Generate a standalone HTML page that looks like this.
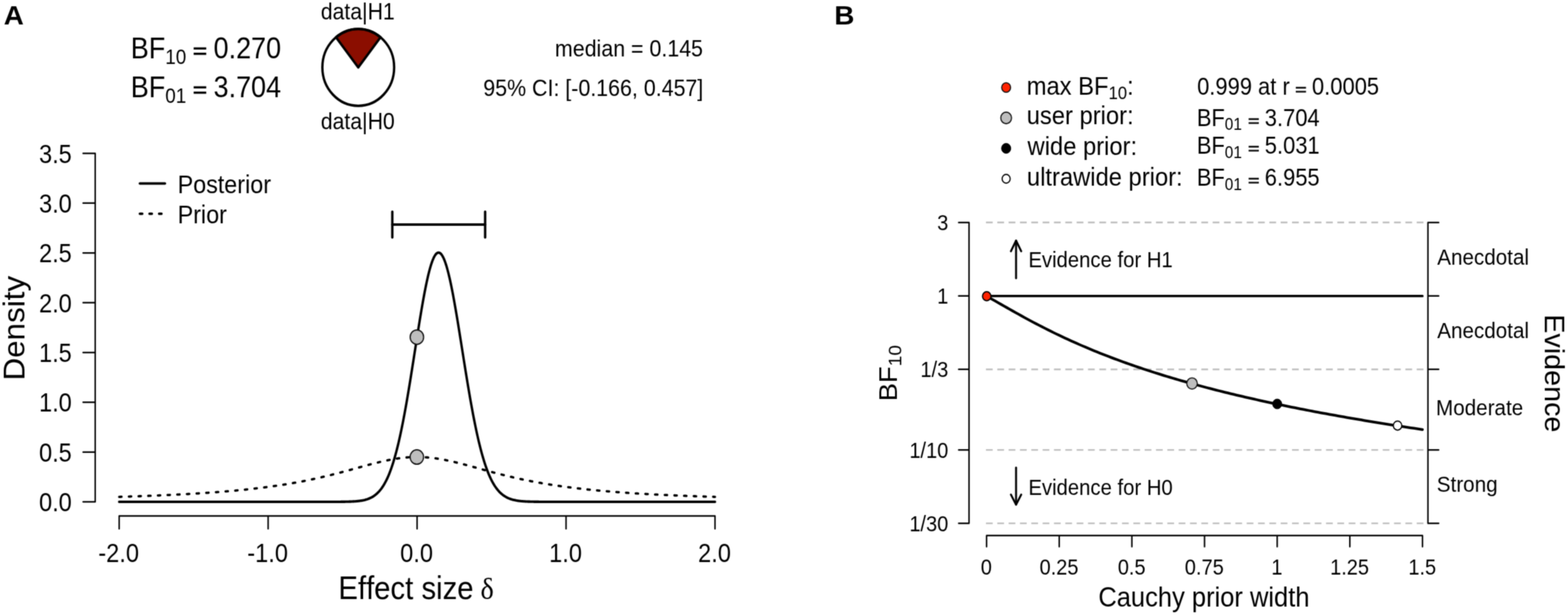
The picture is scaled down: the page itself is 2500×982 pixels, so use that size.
<!DOCTYPE html>
<html lang="en">
<head>
<meta charset="utf-8">
<title>Bayesian t-test: prior and posterior / Bayes factor robustness check</title>
<style>
html,body{margin:0;padding:0;background:#fff;}
body{width:2500px;height:982px;overflow:hidden;}
svg{display:block;}
text{font-kerning:none;font-family:"Liberation Sans",Arial,Helvetica,sans-serif;fill:#000;white-space:pre;}
</style>
</head>
<body>
<svg width="2500" height="982" viewBox="0 0 2500 982">
<defs>
<filter id="soft" filterUnits="userSpaceOnUse" x="0" y="0" width="2500" height="982" color-interpolation-filters="sRGB">
<feConvolveMatrix order="5" kernelMatrix="0.0001 0.0020 0.0055 0.0020 0.0001 0.0020 0.0422 0.1171 0.0422 0.0020 0.0055 0.1171 0.3248 0.1171 0.0055 0.0020 0.0422 0.1171 0.0422 0.0020 0.0001 0.0020 0.0055 0.0020 0.0001" edgeMode="duplicate" preserveAlpha="true"/>
</filter>
</defs>
<g filter="url(#soft)">
<rect x="0" y="0" width="2500" height="982" fill="#fff"/>
<g transform="scale(0.935,1)">
<g transform="translate(226.74,93.4) scale(0.9653,1)" font-size="47.66"><text x="-3.91" y="0">BF</text><text x="56.99" y="8.1" font-size="33.36">10</text><text x="0" y="0" transform="translate(105.73,0) scale(0.9,0.68)" stroke="#000" stroke-width="1.52">=</text><text x="142.42" y="0">0.270</text></g>
<g transform="translate(226.74,155.4) scale(0.9653,1)" font-size="47.66"><text x="-3.91" y="0">BF</text><text x="56.99" y="8.1" font-size="33.36">01</text><text x="0" y="0" transform="translate(105.73,0) scale(0.9,0.68)" stroke="#000" stroke-width="1.52">=</text><text x="142.42" y="0">3.704</text></g>
<circle cx="610.91" cy="107.45" r="61.2" fill="#fff" stroke="#000" stroke-width="4"/>
<path d="M610.91,107.45 L573.01,59.4 A61.2,61.2 0 0 1 648.81,59.4 Z" fill="#8B0E00" stroke="#000" stroke-width="4" stroke-linejoin="round"/>
<g transform="translate(548.56,31.1) scale(0.9804,1)" font-size="36.92"><text x="-1.55" y="0">data|H1</text></g>
<g transform="translate(548.56,205.6) scale(0.9804,1)" font-size="36.92"><text x="-1.55" y="0">data|H0</text></g>
<g transform="translate(1197.33,90.4) scale(0.9804,1)" font-size="37.22"><text x="-256.07" y="0">median = 0.145</text></g>
<g transform="translate(1196.79,152.8) scale(0.9804,1)" font-size="37.22"><text x="-380.12" y="0">95% CI: [-0.166, 0.457]</text></g>
<path d="M141.71,244.5 H162.35 V800 H141.71 M141.71,720.64 H162.35 M141.71,641.29 H162.35 M141.71,561.93 H162.35 M141.71,482.57 H162.35 M141.71,403.21 H162.35 M141.71,323.86 H162.35" fill="none" stroke="#000" stroke-width="2.5" stroke-linecap="round" stroke-linejoin="round"/>
<g transform="translate(122.46,815.2) scale(0.9653,1)" font-size="41.65"><text x="-57.9" y="0">0.0</text></g>
<g transform="translate(122.46,735.84) scale(0.9653,1)" font-size="41.65"><text x="-57.9" y="0">0.5</text></g>
<g transform="translate(122.46,656.49) scale(0.9653,1)" font-size="41.65"><text x="-57.9" y="0">1.0</text></g>
<g transform="translate(122.46,577.13) scale(0.9653,1)" font-size="41.65"><text x="-57.9" y="0">1.5</text></g>
<g transform="translate(122.46,497.77) scale(0.9653,1)" font-size="41.65"><text x="-57.9" y="0">2.0</text></g>
<g transform="translate(122.46,418.41) scale(0.9653,1)" font-size="41.65"><text x="-57.9" y="0">2.5</text></g>
<g transform="translate(122.46,339.06) scale(0.9653,1)" font-size="41.65"><text x="-57.9" y="0">3.0</text></g>
<g transform="translate(122.46,259.7) scale(0.9653,1)" font-size="41.65"><text x="-57.9" y="0">3.5</text></g>
<path d="M203.21,843 V822.5 H1219.25 V843 M457.22,822.5 V843 M711.23,822.5 V843 M965.24,822.5 V843" fill="none" stroke="#000" stroke-width="2.5" stroke-linecap="round" stroke-linejoin="round"/>
<g transform="translate(202.35,895.5) scale(0.9653,1)" font-size="41.65"><text x="-35.88" y="0">-2.0</text></g>
<g transform="translate(456.36,895.5) scale(0.9653,1)" font-size="41.65"><text x="-35.88" y="0">-1.0</text></g>
<g transform="translate(710.37,895.5) scale(0.9653,1)" font-size="41.65"><text x="-28.95" y="0">0.0</text></g>
<g transform="translate(964.39,895.5) scale(0.9653,1)" font-size="41.65"><text x="-28.95" y="0">1.0</text></g>
<g transform="translate(1218.4,895.5) scale(0.9653,1)" font-size="41.65"><text x="-28.95" y="0">2.0</text></g>
<g transform="translate(41.5,521.2) rotate(-90) scale(0.9804,1)" font-size="51"><text x="-87.07" y="0">Density</text></g>
<g transform="translate(581.07,955) scale(0.9804,1)" font-size="51"><text x="-4.18" y="0">Effect size </text><text x="242.94" y="0" font-size="49.47" style="font-family:'Liberation Serif','DejaVu Serif',serif">δ</text></g>
<polyline points="203.21,792.06 204.48,792.03 205.75,791.99 207.02,791.96 208.29,791.92 209.56,791.88 210.83,791.85 212.1,791.81 213.37,791.77 214.64,791.74 215.91,791.7 217.18,791.66 218.45,791.62 219.72,791.58 220.99,791.55 222.26,791.51 223.53,791.47 224.8,791.43 226.07,791.39 227.34,791.35 228.61,791.31 229.88,791.27 231.15,791.23 232.42,791.19 233.69,791.15 234.96,791.1 236.23,791.06 237.5,791.02 238.77,790.98 240.04,790.94 241.31,790.89 242.58,790.85 243.85,790.81 245.12,790.76 246.39,790.72 247.66,790.68 248.93,790.63 250.2,790.59 251.47,790.54 252.74,790.5 254.01,790.45 255.28,790.4 256.55,790.36 257.82,790.31 259.09,790.26 260.36,790.22 261.63,790.17 262.9,790.12 264.17,790.07 265.44,790.02 266.71,789.97 267.98,789.92 269.25,789.87 270.52,789.82 271.79,789.77 273.06,789.72 274.33,789.67 275.6,789.62 276.87,789.57 278.14,789.52 279.41,789.46 280.68,789.41 281.95,789.36 283.22,789.3 284.49,789.25 285.76,789.19 287.03,789.14 288.3,789.08 289.57,789.03 290.84,788.97 292.11,788.92 293.38,788.86 294.65,788.8 295.92,788.74 297.19,788.69 298.46,788.63 299.73,788.57 301,788.51 302.27,788.45 303.54,788.39 304.81,788.33 306.08,788.27 307.35,788.2 308.62,788.14 309.89,788.08 311.16,788.02 312.43,787.95 313.7,787.89 314.97,787.82 316.24,787.76 317.51,787.69 318.78,787.63 320.05,787.56 321.32,787.49 322.59,787.43 323.86,787.36 325.13,787.29 326.4,787.22 327.67,787.15 328.94,787.08 330.21,787.01 331.48,786.94 332.75,786.87 334.02,786.8 335.29,786.72 336.56,786.65 337.83,786.58 339.1,786.5 340.37,786.43 341.64,786.35 342.91,786.27 344.18,786.2 345.45,786.12 346.72,786.04 347.99,785.96 349.26,785.88 350.53,785.81 351.8,785.72 353.07,785.64 354.34,785.56 355.61,785.48 356.89,785.4 358.16,785.31 359.43,785.23 360.7,785.14 361.97,785.06 363.24,784.97 364.51,784.88 365.78,784.8 367.05,784.71 368.32,784.62 369.59,784.53 370.86,784.44 372.13,784.35 373.4,784.26 374.67,784.16 375.94,784.07 377.21,783.98 378.48,783.88 379.75,783.79 381.02,783.69 382.29,783.59 383.56,783.49 384.83,783.4 386.1,783.3 387.37,783.2 388.64,783.09 389.91,782.99 391.18,782.89 392.45,782.79 393.72,782.68 394.99,782.58 396.26,782.47 397.53,782.36 398.8,782.25 400.07,782.15 401.34,782.04 402.61,781.92 403.88,781.81 405.15,781.7 406.42,781.59 407.69,781.47 408.96,781.36 410.23,781.24 411.5,781.12 412.77,781.01 414.04,780.89 415.31,780.77 416.58,780.65 417.85,780.52 419.12,780.4 420.39,780.28 421.66,780.15 422.93,780.02 424.2,779.9 425.47,779.77 426.74,779.64 428.01,779.51 429.28,779.38 430.55,779.24 431.82,779.11 433.09,778.98 434.36,778.84 435.63,778.7 436.9,778.56 438.17,778.42 439.44,778.28 440.71,778.14 441.98,778 443.25,777.85 444.52,777.71 445.79,777.56 447.06,777.41 448.33,777.27 449.6,777.11 450.87,776.96 452.14,776.81 453.41,776.66 454.68,776.5 455.95,776.34 457.22,776.19 458.49,776.03 459.76,775.87 461.03,775.7 462.3,775.54 463.57,775.38 464.84,775.21 466.11,775.04 467.38,774.87 468.65,774.7 469.92,774.53 471.19,774.36 472.46,774.18 473.73,774.01 475,773.83 476.27,773.65 477.54,773.47 478.81,773.29 480.08,773.1 481.35,772.92 482.62,772.73 483.89,772.54 485.16,772.35 486.43,772.16 487.7,771.97 488.97,771.78 490.24,771.58 491.51,771.38 492.78,771.18 494.05,770.98 495.32,770.78 496.59,770.58 497.86,770.37 499.13,770.16 500.4,769.95 501.67,769.74 502.94,769.53 504.21,769.32 505.48,769.1 506.75,768.88 508.02,768.66 509.29,768.44 510.56,768.22 511.83,768 513.1,767.77 514.37,767.54 515.64,767.31 516.91,767.08 518.18,766.85 519.45,766.61 520.72,766.38 521.99,766.14 523.26,765.9 524.53,765.66 525.8,765.41 527.07,765.17 528.34,764.92 529.61,764.67 530.88,764.42 532.15,764.17 533.42,763.92 534.69,763.66 535.96,763.4 537.23,763.14 538.5,762.88 539.77,762.62 541.04,762.35 542.31,762.09 543.58,761.82 544.85,761.55 546.12,761.28 547.39,761 548.66,760.73 549.93,760.45 551.2,760.17 552.47,759.89 553.74,759.61 555.01,759.32 556.28,759.04 557.55,758.75 558.82,758.46 560.09,758.17 561.36,757.88 562.63,757.58 563.9,757.29 565.17,756.99 566.44,756.69 567.71,756.39 568.98,756.09 570.25,755.79 571.52,755.48 572.79,755.18 574.06,754.87 575.33,754.56 576.6,754.25 577.87,753.94 579.14,753.63 580.41,753.31 581.68,753 582.95,752.68 584.22,752.37 585.49,752.05 586.76,751.73 588.03,751.41 589.3,751.09 590.57,750.77 591.84,750.44 593.11,750.12 594.39,749.8 595.66,749.47 596.93,749.15 598.2,748.82 599.47,748.49 600.74,748.17 602.01,747.84 603.28,747.51 604.55,747.18 605.82,746.85 607.09,746.53 608.36,746.2 609.63,745.87 610.9,745.54 612.17,745.21 613.44,744.89 614.71,744.56 615.98,744.23 617.25,743.91 618.52,743.58 619.79,743.26 621.06,742.93 622.33,742.61 623.6,742.29 624.87,741.96 626.14,741.64 627.41,741.33 628.68,741.01 629.95,740.69 631.22,740.38 632.49,740.07 633.76,739.75 635.03,739.45 636.3,739.14 637.57,738.83 638.84,738.53 640.11,738.23 641.38,737.93 642.65,737.64 643.92,737.35 645.19,737.06 646.46,736.77 647.73,736.48 649,736.2 650.27,735.93 651.54,735.65 652.81,735.38 654.08,735.11 655.35,734.85 656.62,734.59 657.89,734.34 659.16,734.08 660.43,733.84 661.7,733.59 662.97,733.36 664.24,733.12 665.51,732.89 666.78,732.67 668.05,732.45 669.32,732.23 670.59,732.02 671.86,731.82 673.13,731.62 674.4,731.43 675.67,731.24 676.94,731.06 678.21,730.88 679.48,730.71 680.75,730.54 682.02,730.38 683.29,730.23 684.56,730.08 685.83,729.94 687.1,729.81 688.37,729.68 689.64,729.56 690.91,729.45 692.18,729.34 693.45,729.24 694.72,729.14 695.99,729.05 697.26,728.97 698.53,728.9 699.8,728.83 701.07,728.77 702.34,728.72 703.61,728.67 704.88,728.63 706.15,728.6 707.42,728.57 708.69,728.56 709.96,728.55 711.23,728.54 712.5,728.55 713.77,728.56 715.04,728.57 716.31,728.6 717.58,728.63 718.85,728.67 720.12,728.72 721.39,728.77 722.66,728.83 723.93,728.9 725.2,728.97 726.47,729.05 727.74,729.14 729.01,729.24 730.28,729.34 731.55,729.45 732.82,729.56 734.09,729.68 735.36,729.81 736.63,729.94 737.9,730.08 739.17,730.23 740.44,730.38 741.71,730.54 742.98,730.71 744.25,730.88 745.52,731.06 746.79,731.24 748.06,731.43 749.33,731.62 750.6,731.82 751.87,732.02 753.14,732.23 754.41,732.45 755.68,732.67 756.95,732.89 758.22,733.12 759.49,733.36 760.76,733.59 762.03,733.84 763.3,734.08 764.57,734.34 765.84,734.59 767.11,734.85 768.38,735.11 769.65,735.38 770.92,735.65 772.19,735.93 773.46,736.2 774.73,736.48 776,736.77 777.27,737.06 778.54,737.35 779.81,737.64 781.08,737.93 782.35,738.23 783.62,738.53 784.89,738.83 786.16,739.14 787.43,739.45 788.7,739.75 789.97,740.07 791.24,740.38 792.51,740.69 793.78,741.01 795.05,741.33 796.32,741.64 797.59,741.96 798.86,742.29 800.13,742.61 801.4,742.93 802.67,743.26 803.94,743.58 805.21,743.91 806.48,744.23 807.75,744.56 809.02,744.89 810.29,745.21 811.56,745.54 812.83,745.87 814.1,746.2 815.37,746.53 816.64,746.85 817.91,747.18 819.18,747.51 820.45,747.84 821.72,748.17 822.99,748.49 824.26,748.82 825.53,749.15 826.8,749.47 828.07,749.8 829.34,750.12 830.61,750.44 831.89,750.77 833.16,751.09 834.43,751.41 835.7,751.73 836.97,752.05 838.24,752.37 839.51,752.68 840.78,753 842.05,753.31 843.32,753.63 844.59,753.94 845.86,754.25 847.13,754.56 848.4,754.87 849.67,755.18 850.94,755.48 852.21,755.79 853.48,756.09 854.75,756.39 856.02,756.69 857.29,756.99 858.56,757.29 859.83,757.58 861.1,757.88 862.37,758.17 863.64,758.46 864.91,758.75 866.18,759.04 867.45,759.32 868.72,759.61 869.99,759.89 871.26,760.17 872.53,760.45 873.8,760.73 875.07,761 876.34,761.28 877.61,761.55 878.88,761.82 880.15,762.09 881.42,762.35 882.69,762.62 883.96,762.88 885.23,763.14 886.5,763.4 887.77,763.66 889.04,763.92 890.31,764.17 891.58,764.42 892.85,764.67 894.12,764.92 895.39,765.17 896.66,765.41 897.93,765.66 899.2,765.9 900.47,766.14 901.74,766.38 903.01,766.61 904.28,766.85 905.55,767.08 906.82,767.31 908.09,767.54 909.36,767.77 910.63,768 911.9,768.22 913.17,768.44 914.44,768.66 915.71,768.88 916.98,769.1 918.25,769.32 919.52,769.53 920.79,769.74 922.06,769.95 923.33,770.16 924.6,770.37 925.87,770.58 927.14,770.78 928.41,770.98 929.68,771.18 930.95,771.38 932.22,771.58 933.49,771.78 934.76,771.97 936.03,772.16 937.3,772.35 938.57,772.54 939.84,772.73 941.11,772.92 942.38,773.1 943.65,773.29 944.92,773.47 946.19,773.65 947.46,773.83 948.73,774.01 950,774.18 951.27,774.36 952.54,774.53 953.81,774.7 955.08,774.87 956.35,775.04 957.62,775.21 958.89,775.38 960.16,775.54 961.43,775.7 962.7,775.87 963.97,776.03 965.24,776.19 966.51,776.34 967.78,776.5 969.05,776.66 970.32,776.81 971.59,776.96 972.86,777.11 974.13,777.27 975.4,777.41 976.67,777.56 977.94,777.71 979.21,777.85 980.48,778 981.75,778.14 983.02,778.28 984.29,778.42 985.56,778.56 986.83,778.7 988.1,778.84 989.37,778.98 990.64,779.11 991.91,779.24 993.18,779.38 994.45,779.51 995.72,779.64 996.99,779.77 998.26,779.9 999.53,780.02 1000.8,780.15 1002.07,780.28 1003.34,780.4 1004.61,780.52 1005.88,780.65 1007.15,780.77 1008.42,780.89 1009.69,781.01 1010.96,781.12 1012.23,781.24 1013.5,781.36 1014.77,781.47 1016.04,781.59 1017.31,781.7 1018.58,781.81 1019.85,781.92 1021.12,782.04 1022.39,782.15 1023.66,782.25 1024.93,782.36 1026.2,782.47 1027.47,782.58 1028.74,782.68 1030.01,782.79 1031.28,782.89 1032.55,782.99 1033.82,783.09 1035.09,783.2 1036.36,783.3 1037.63,783.4 1038.9,783.49 1040.17,783.59 1041.44,783.69 1042.71,783.79 1043.98,783.88 1045.25,783.98 1046.52,784.07 1047.79,784.16 1049.06,784.26 1050.33,784.35 1051.6,784.44 1052.87,784.53 1054.14,784.62 1055.41,784.71 1056.68,784.8 1057.95,784.88 1059.22,784.97 1060.49,785.06 1061.76,785.14 1063.03,785.23 1064.3,785.31 1065.57,785.4 1066.84,785.48 1068.11,785.56 1069.39,785.64 1070.66,785.72 1071.93,785.81 1073.2,785.88 1074.47,785.96 1075.74,786.04 1077.01,786.12 1078.28,786.2 1079.55,786.27 1080.82,786.35 1082.09,786.43 1083.36,786.5 1084.63,786.58 1085.9,786.65 1087.17,786.72 1088.44,786.8 1089.71,786.87 1090.98,786.94 1092.25,787.01 1093.52,787.08 1094.79,787.15 1096.06,787.22 1097.33,787.29 1098.6,787.36 1099.87,787.43 1101.14,787.49 1102.41,787.56 1103.68,787.63 1104.95,787.69 1106.22,787.76 1107.49,787.82 1108.76,787.89 1110.03,787.95 1111.3,788.02 1112.57,788.08 1113.84,788.14 1115.11,788.2 1116.38,788.27 1117.65,788.33 1118.92,788.39 1120.19,788.45 1121.46,788.51 1122.73,788.57 1124,788.63 1125.27,788.69 1126.54,788.74 1127.81,788.8 1129.08,788.86 1130.35,788.92 1131.62,788.97 1132.89,789.03 1134.16,789.08 1135.43,789.14 1136.7,789.19 1137.97,789.25 1139.24,789.3 1140.51,789.36 1141.78,789.41 1143.05,789.46 1144.32,789.52 1145.59,789.57 1146.86,789.62 1148.13,789.67 1149.4,789.72 1150.67,789.77 1151.94,789.82 1153.21,789.87 1154.48,789.92 1155.75,789.97 1157.02,790.02 1158.29,790.07 1159.56,790.12 1160.83,790.17 1162.1,790.22 1163.37,790.26 1164.64,790.31 1165.91,790.36 1167.18,790.4 1168.45,790.45 1169.72,790.5 1170.99,790.54 1172.26,790.59 1173.53,790.63 1174.8,790.68 1176.07,790.72 1177.34,790.76 1178.61,790.81 1179.88,790.85 1181.15,790.89 1182.42,790.94 1183.69,790.98 1184.96,791.02 1186.23,791.06 1187.5,791.1 1188.77,791.15 1190.04,791.19 1191.31,791.23 1192.58,791.27 1193.85,791.31 1195.12,791.35 1196.39,791.39 1197.66,791.43 1198.93,791.47 1200.2,791.51 1201.47,791.55 1202.74,791.58 1204.01,791.62 1205.28,791.66 1206.55,791.7 1207.82,791.74 1209.09,791.77 1210.36,791.81 1211.63,791.85 1212.9,791.88 1214.17,791.92 1215.44,791.96 1216.71,791.99 1217.98,792.03 1219.25,792.06" fill="none" stroke="#000" stroke-width="3.8" stroke-linecap="round" stroke-linejoin="round" stroke-dasharray="4.128 12.384"/>
<polyline points="203.21,800 204.48,800 205.75,800 207.02,800 208.29,800 209.56,800 210.83,800 212.1,800 213.37,800 214.64,800 215.91,800 217.18,800 218.45,800 219.72,800 220.99,800 222.26,800 223.53,800 224.8,800 226.07,800 227.34,800 228.61,800 229.88,800 231.15,800 232.42,800 233.69,800 234.96,800 236.23,800 237.5,800 238.77,800 240.04,800 241.31,800 242.58,800 243.85,800 245.12,800 246.39,800 247.66,800 248.93,800 250.2,800 251.47,800 252.74,800 254.01,800 255.28,800 256.55,800 257.82,800 259.09,800 260.36,800 261.63,800 262.9,800 264.17,800 265.44,800 266.71,800 267.98,800 269.25,800 270.52,800 271.79,800 273.06,800 274.33,800 275.6,800 276.87,800 278.14,800 279.41,800 280.68,800 281.95,800 283.22,800 284.49,800 285.76,800 287.03,800 288.3,800 289.57,800 290.84,800 292.11,800 293.38,800 294.65,800 295.92,800 297.19,800 298.46,800 299.73,800 301,800 302.27,800 303.54,800 304.81,800 306.08,800 307.35,800 308.62,800 309.89,800 311.16,800 312.43,800 313.7,800 314.97,800 316.24,800 317.51,800 318.78,800 320.05,800 321.32,800 322.59,800 323.86,800 325.13,800 326.4,800 327.67,800 328.94,800 330.21,800 331.48,800 332.75,800 334.02,800 335.29,800 336.56,800 337.83,800 339.1,800 340.37,800 341.64,800 342.91,800 344.18,800 345.45,800 346.72,800 347.99,800 349.26,800 350.53,800 351.8,800 353.07,800 354.34,800 355.61,800 356.89,800 358.16,800 359.43,800 360.7,800 361.97,800 363.24,800 364.51,800 365.78,800 367.05,800 368.32,800 369.59,800 370.86,800 372.13,800 373.4,800 374.67,800 375.94,800 377.21,800 378.48,800 379.75,800 381.02,800 382.29,800 383.56,800 384.83,800 386.1,800 387.37,800 388.64,800 389.91,800 391.18,800 392.45,800 393.72,800 394.99,800 396.26,800 397.53,800 398.8,800 400.07,800 401.34,800 402.61,800 403.88,800 405.15,800 406.42,800 407.69,800 408.96,800 410.23,800 411.5,800 412.77,800 414.04,800 415.31,800 416.58,800 417.85,800 419.12,800 420.39,800 421.66,800 422.93,800 424.2,800 425.47,800 426.74,800 428.01,800 429.28,800 430.55,800 431.82,800 433.09,800 434.36,800 435.63,800 436.9,800 438.17,800 439.44,800 440.71,800 441.98,800 443.25,800 444.52,800 445.79,800 447.06,800 448.33,800 449.6,800 450.87,800 452.14,800 453.41,800 454.68,800 455.95,800 457.22,800 458.49,800 459.76,800 461.03,800 462.3,800 463.57,800 464.84,800 466.11,800 467.38,800 468.65,800 469.92,800 471.19,800 472.46,800 473.73,800 475,800 476.27,800 477.54,800 478.81,800 480.08,800 481.35,800 482.62,800 483.89,800 485.16,800 486.43,800 487.7,800 488.97,800 490.24,800 491.51,800 492.78,800 494.05,800 495.32,800 496.59,800 497.86,800 499.13,800 500.4,800 501.67,800 502.94,800 504.21,800 505.48,800 506.75,800 508.02,800 509.29,800 510.56,800 511.83,800 513.1,800 514.37,800 515.64,800 516.91,800 518.18,800 519.45,800 520.72,800 521.99,800 523.26,800 524.53,800 525.8,800 527.07,800 528.34,800 529.61,800 530.88,800 532.15,800 533.42,800 534.69,800 535.96,800 537.23,800 538.5,800 539.77,800 541.04,800 542.31,800 543.58,800 544.85,800 546.12,800 547.39,800 548.66,800 549.93,800 551.2,800 552.47,800 553.74,800 555.01,800 556.28,799.99 557.55,799.99 558.82,799.99 560.09,799.99 561.36,799.99 562.63,799.99 563.9,799.99 565.17,799.98 566.44,799.98 567.71,799.98 568.98,799.98 570.25,799.97 571.52,799.97 572.79,799.97 574.06,799.96 575.33,799.96 576.6,799.95 577.87,799.94 579.14,799.93 580.41,799.93 581.68,799.91 582.95,799.9 584.22,799.89 585.49,799.88 586.76,799.86 588.03,799.84 589.3,799.82 590.57,799.8 591.84,799.77 593.11,799.74 594.39,799.71 595.66,799.67 596.93,799.63 598.2,799.59 599.47,799.54 600.74,799.48 602.01,799.42 603.28,799.35 604.55,799.27 605.82,799.19 607.09,799.1 608.36,798.99 609.63,798.88 610.9,798.75 612.17,798.61 613.44,798.46 614.71,798.29 615.98,798.11 617.25,797.91 618.52,797.68 619.79,797.44 621.06,797.18 622.33,796.89 623.6,796.57 624.87,796.22 626.14,795.85 627.41,795.44 628.68,794.99 629.95,794.51 631.22,793.98 632.49,793.42 633.76,792.8 635.03,792.14 636.3,791.42 637.57,790.64 638.84,789.81 640.11,788.91 641.38,787.95 642.65,786.91 643.92,785.8 645.19,784.6 646.46,783.33 647.73,781.96 649,780.51 650.27,778.95 651.54,777.29 652.81,775.53 654.08,773.66 655.35,771.67 656.62,769.55 657.89,767.32 659.16,764.95 660.43,762.45 661.7,759.81 662.97,757.03 664.24,754.1 665.51,751.01 666.78,747.77 668.05,744.38 669.32,740.81 670.59,737.09 671.86,733.19 673.13,729.13 674.4,724.88 675.67,720.47 676.94,715.88 678.21,711.11 679.48,706.16 680.75,701.04 682.02,695.74 683.29,690.27 684.56,684.62 685.83,678.8 687.1,672.82 688.37,666.68 689.64,660.37 690.91,653.91 692.18,647.31 693.45,640.57 694.72,633.7 695.99,626.7 697.26,619.59 698.53,612.37 699.8,605.06 701.07,597.67 702.34,590.2 703.61,582.68 704.88,575.12 706.15,567.52 707.42,559.91 708.69,552.29 709.96,544.69 711.23,537.12 712.5,529.6 713.77,522.13 715.04,514.75 716.31,507.47 717.58,500.3 718.85,493.26 720.12,486.36 721.39,479.64 722.66,473.1 723.93,466.75 725.2,460.63 726.47,454.73 727.74,449.08 729.01,443.7 730.28,438.6 731.55,433.78 732.82,429.28 734.09,425.09 735.36,421.23 736.63,417.71 737.9,414.54 739.17,411.74 740.44,409.3 741.71,407.23 742.98,405.55 744.25,404.25 745.52,403.34 746.79,402.82 748.06,402.7 749.33,402.97 750.6,403.62 751.87,404.67 753.14,406.11 754.41,407.92 755.68,410.11 756.95,412.67 758.22,415.6 759.49,418.87 760.76,422.49 762.03,426.44 763.3,430.71 764.57,435.28 765.84,440.16 767.11,445.31 768.38,450.73 769.65,456.41 770.92,462.32 772.19,468.45 773.46,474.79 774.73,481.31 776,488.01 777.27,494.86 778.54,501.85 779.81,508.96 781.08,516.18 782.35,523.48 783.62,530.86 784.89,538.29 786.16,545.76 787.43,553.25 788.7,560.76 789.97,568.25 791.24,575.73 792.51,583.17 793.78,590.57 795.05,597.91 796.32,605.18 797.59,612.36 798.86,619.45 800.13,626.44 801.4,633.31 802.67,640.07 803.94,646.7 805.21,653.19 806.48,659.54 807.75,665.74 809.02,671.79 810.29,677.68 811.56,683.41 812.83,688.98 814.1,694.38 815.37,699.61 816.64,704.67 817.91,709.57 819.18,714.29 820.45,718.84 821.72,723.22 822.99,727.43 824.26,731.48 825.53,735.36 826.8,739.08 828.07,742.63 829.34,746.03 830.61,749.28 831.89,752.37 833.16,755.32 834.43,758.12 835.7,760.79 836.97,763.31 838.24,765.71 839.51,767.98 840.78,770.13 842.05,772.16 843.32,774.07 844.59,775.88 845.86,777.58 847.13,779.18 848.4,780.68 849.67,782.09 850.94,783.42 852.21,784.66 853.48,785.82 854.75,786.9 856.02,787.91 857.29,788.86 858.56,789.74 859.83,790.56 861.1,791.32 862.37,792.03 863.64,792.68 864.91,793.29 866.18,793.86 867.45,794.38 868.72,794.86 869.99,795.3 871.26,795.71 872.53,796.09 873.8,796.44 875.07,796.76 876.34,797.05 877.61,797.32 878.88,797.57 880.15,797.8 881.42,798 882.69,798.19 883.96,798.37 885.23,798.52 886.5,798.67 887.77,798.8 889.04,798.92 890.31,799.02 891.58,799.12 892.85,799.21 894.12,799.29 895.39,799.36 896.66,799.43 897.93,799.49 899.2,799.54 900.47,799.59 901.74,799.64 903.01,799.67 904.28,799.71 905.55,799.74 906.82,799.77 908.09,799.8 909.36,799.82 910.63,799.84 911.9,799.86 913.17,799.87 914.44,799.89 915.71,799.9 916.98,799.91 918.25,799.92 919.52,799.93 920.79,799.94 922.06,799.95 923.33,799.95 924.6,799.96 925.87,799.96 927.14,799.97 928.41,799.97 929.68,799.98 930.95,799.98 932.22,799.98 933.49,799.98 934.76,799.99 936.03,799.99 937.3,799.99 938.57,799.99 939.84,799.99 941.11,799.99 942.38,799.99 943.65,799.99 944.92,800 946.19,800 947.46,800 948.73,800 950,800 951.27,800 952.54,800 953.81,800 955.08,800 956.35,800 957.62,800 958.89,800 960.16,800 961.43,800 962.7,800 963.97,800 965.24,800 966.51,800 967.78,800 969.05,800 970.32,800 971.59,800 972.86,800 974.13,800 975.4,800 976.67,800 977.94,800 979.21,800 980.48,800 981.75,800 983.02,800 984.29,800 985.56,800 986.83,800 988.1,800 989.37,800 990.64,800 991.91,800 993.18,800 994.45,800 995.72,800 996.99,800 998.26,800 999.53,800 1000.8,800 1002.07,800 1003.34,800 1004.61,800 1005.88,800 1007.15,800 1008.42,800 1009.69,800 1010.96,800 1012.23,800 1013.5,800 1014.77,800 1016.04,800 1017.31,800 1018.58,800 1019.85,800 1021.12,800 1022.39,800 1023.66,800 1024.93,800 1026.2,800 1027.47,800 1028.74,800 1030.01,800 1031.28,800 1032.55,800 1033.82,800 1035.09,800 1036.36,800 1037.63,800 1038.9,800 1040.17,800 1041.44,800 1042.71,800 1043.98,800 1045.25,800 1046.52,800 1047.79,800 1049.06,800 1050.33,800 1051.6,800 1052.87,800 1054.14,800 1055.41,800 1056.68,800 1057.95,800 1059.22,800 1060.49,800 1061.76,800 1063.03,800 1064.3,800 1065.57,800 1066.84,800 1068.11,800 1069.39,800 1070.66,800 1071.93,800 1073.2,800 1074.47,800 1075.74,800 1077.01,800 1078.28,800 1079.55,800 1080.82,800 1082.09,800 1083.36,800 1084.63,800 1085.9,800 1087.17,800 1088.44,800 1089.71,800 1090.98,800 1092.25,800 1093.52,800 1094.79,800 1096.06,800 1097.33,800 1098.6,800 1099.87,800 1101.14,800 1102.41,800 1103.68,800 1104.95,800 1106.22,800 1107.49,800 1108.76,800 1110.03,800 1111.3,800 1112.57,800 1113.84,800 1115.11,800 1116.38,800 1117.65,800 1118.92,800 1120.19,800 1121.46,800 1122.73,800 1124,800 1125.27,800 1126.54,800 1127.81,800 1129.08,800 1130.35,800 1131.62,800 1132.89,800 1134.16,800 1135.43,800 1136.7,800 1137.97,800 1139.24,800 1140.51,800 1141.78,800 1143.05,800 1144.32,800 1145.59,800 1146.86,800 1148.13,800 1149.4,800 1150.67,800 1151.94,800 1153.21,800 1154.48,800 1155.75,800 1157.02,800 1158.29,800 1159.56,800 1160.83,800 1162.1,800 1163.37,800 1164.64,800 1165.91,800 1167.18,800 1168.45,800 1169.72,800 1170.99,800 1172.26,800 1173.53,800 1174.8,800 1176.07,800 1177.34,800 1178.61,800 1179.88,800 1181.15,800 1182.42,800 1183.69,800 1184.96,800 1186.23,800 1187.5,800 1188.77,800 1190.04,800 1191.31,800 1192.58,800 1193.85,800 1195.12,800 1196.39,800 1197.66,800 1198.93,800 1200.2,800 1201.47,800 1202.74,800 1204.01,800 1205.28,800 1206.55,800 1207.82,800 1209.09,800 1210.36,800 1211.63,800 1212.9,800 1214.17,800 1215.44,800 1216.71,800 1217.98,800 1219.25,800" fill="none" stroke="#000" stroke-width="4.1" stroke-linecap="round" stroke-linejoin="round"/>
<circle cx="710.91" cy="537.4" r="11.5" fill="#BEBEBE" stroke="#111" stroke-width="2"/>
<circle cx="710.8" cy="728.6" r="11.5" fill="#BEBEBE" stroke="#111" stroke-width="2"/>
<line x1="668.98" y1="358" x2="827.27" y2="358" stroke="#000" stroke-width="4.1" stroke-linecap="round" />
<line x1="668.98" y1="337.5" x2="668.98" y2="378.5" stroke="#000" stroke-width="4.1" stroke-linecap="round" />
<line x1="827.27" y1="337.5" x2="827.27" y2="378.5" stroke="#000" stroke-width="4.1" stroke-linecap="round" />
<line x1="238.5" y1="292.5" x2="281.28" y2="292.5" stroke="#000" stroke-width="4.1" stroke-linecap="round" />
<line x1="238.5" y1="340.8" x2="281.28" y2="340.8" stroke="#000" stroke-width="4.1" stroke-linecap="round" stroke-dasharray="4.1 12.3" />
<g transform="translate(306.1,307.6) scale(0.9804,1)" font-size="40.6"><text x="-3.33" y="0">Posterior</text></g>
<g transform="translate(306.1,355.5) scale(0.9804,1)" font-size="40.6"><text x="-3.33" y="0">Prior</text></g>
<line x1="1681.28" y1="354.64" x2="2427.38" y2="354.64" stroke="#BEBEBE" stroke-width="2.6" stroke-linecap="butt" stroke-dasharray="11.5 7.83" />
<line x1="1681.28" y1="588.86" x2="2427.38" y2="588.86" stroke="#BEBEBE" stroke-width="2.6" stroke-linecap="butt" stroke-dasharray="11.5 7.83" />
<line x1="1681.28" y1="717.2" x2="2427.38" y2="717.2" stroke="#BEBEBE" stroke-width="2.6" stroke-linecap="butt" stroke-dasharray="11.5 7.83" />
<line x1="1681.28" y1="834.31" x2="2427.38" y2="834.31" stroke="#BEBEBE" stroke-width="2.6" stroke-linecap="butt" stroke-dasharray="11.5 7.83" />
<path d="M1634.76,354.64 H1652.41 V834.31 H1634.76 M1634.76,471.75 H1652.41 M1634.76,588.86 H1652.41 M1634.76,717.2 H1652.41" fill="none" stroke="#000" stroke-width="2.5" stroke-linecap="round" stroke-linejoin="round"/>
<path d="M2453.26,354.64 H2434.97 V834.31 H2453.26 M2453.26,471.75 H2434.97 M2453.26,588.86 H2434.97 M2453.26,717.2 H2434.97" fill="none" stroke="#000" stroke-width="2.5" stroke-linecap="round" stroke-linejoin="round"/>
<g transform="translate(1617.01,367.04) scale(0.9653,1)" font-size="35.31"><text x="-19.64" y="0">3</text></g>
<g transform="translate(1617.01,484.15) scale(0.9653,1)" font-size="35.31"><text x="-19.64" y="0">1</text></g>
<g transform="translate(1617.01,601.26) scale(0.9653,1)" font-size="35.31"><text x="-49.08" y="0">1/3</text></g>
<g transform="translate(1617.01,729.6) scale(0.9653,1)" font-size="35.31"><text x="-68.72" y="0">1/10</text></g>
<g transform="translate(1617.01,846.71) scale(0.9653,1)" font-size="35.31"><text x="-68.72" y="0">1/30</text></g>
<path d="M1682.35,871.5 V853.7 H2425.67 V871.5 M1806.24,853.7 V871.5 M1930.12,853.7 V871.5 M2054.01,853.7 V871.5 M2177.9,853.7 V871.5 M2301.78,853.7 V871.5" fill="none" stroke="#000" stroke-width="2.5" stroke-linecap="round" stroke-linejoin="round"/>
<g transform="translate(1681.93,915.7) scale(0.9653,1)" font-size="35.31"><text x="-9.82" y="0">0</text></g>
<g transform="translate(1805.81,915.7) scale(0.9653,1)" font-size="35.31"><text x="-34.36" y="0">0.25</text></g>
<g transform="translate(1929.7,915.7) scale(0.9653,1)" font-size="35.31"><text x="-24.54" y="0">0.5</text></g>
<g transform="translate(2053.58,915.7) scale(0.9653,1)" font-size="35.31"><text x="-34.36" y="0">0.75</text></g>
<g transform="translate(2177.47,915.7) scale(0.9653,1)" font-size="35.31"><text x="-9.82" y="0">1</text></g>
<g transform="translate(2301.35,915.7) scale(0.9653,1)" font-size="35.31"><text x="-34.36" y="0">1.25</text></g>
<g transform="translate(2425.24,915.7) scale(0.9653,1)" font-size="35.31"><text x="-24.54" y="0">1.5</text></g>
<g transform="translate(1875.08,967.3) scale(0.9804,1)" font-size="44.37"><text x="-2.25" y="0">Cauchy prior width</text></g>
<line x1="1682.35" y1="471.9" x2="2425.67" y2="471.9" stroke="#000" stroke-width="3.9" stroke-linecap="round" />
<polyline points="1682.6,472.16 1683.34,472.57 1684.83,473.35 1687.31,474.66 1692.26,477.29 1697.22,479.93 1702.17,482.58 1707.13,485.23 1712.09,487.88 1717.04,490.52 1722,493.16 1726.95,495.77 1731.91,498.38 1736.86,500.96 1741.82,503.52 1746.77,506.07 1751.73,508.59 1756.68,511.08 1761.64,513.55 1766.6,515.99 1771.55,518.41 1776.51,520.8 1781.46,523.16 1786.42,525.5 1791.37,527.81 1796.33,530.09 1801.28,532.34 1806.24,534.56 1811.19,536.76 1816.15,538.93 1821.11,541.07 1826.06,543.18 1831.02,545.27 1835.97,547.33 1840.93,549.37 1845.88,551.38 1850.84,553.36 1855.79,555.32 1860.75,557.25 1865.7,559.16 1870.66,561.04 1875.61,562.91 1880.57,564.74 1885.53,566.56 1890.48,568.35 1895.44,570.12 1900.39,571.86 1905.35,573.59 1910.3,575.29 1915.26,576.98 1920.21,578.64 1925.17,580.28 1930.12,581.91 1935.08,583.51 1940.04,585.09 1944.99,586.66 1949.95,588.21 1954.9,589.74 1959.86,591.25 1964.81,592.74 1969.77,594.22 1974.72,595.68 1979.68,597.13 1984.63,598.56 1989.59,599.97 1994.55,601.37 1999.5,602.75 2004.46,604.11 2009.41,605.47 2014.37,606.8 2019.32,608.13 2024.28,609.44 2029.23,610.73 2034.19,612.01 2039.14,613.28 2044.1,614.54 2049.06,615.78 2054.01,617.01 2058.97,618.23 2063.92,619.44 2068.88,620.63 2073.83,621.81 2078.79,622.98 2083.74,624.14 2088.7,625.29 2093.65,626.43 2098.61,627.56 2103.57,628.67 2108.52,629.78 2113.48,630.88 2118.43,631.96 2123.39,633.04 2128.34,634.1 2133.3,635.16 2138.25,636.21 2143.21,637.25 2148.16,638.27 2153.12,639.29 2158.07,640.31 2163.03,641.31 2167.99,642.3 2172.94,643.29 2177.9,644.26 2182.85,645.23 2187.81,646.19 2192.76,647.15 2197.72,648.09 2202.67,649.03 2207.63,649.96 2212.58,650.88 2217.54,651.8 2222.5,652.7 2227.45,653.6 2232.41,654.5 2237.36,655.39 2242.32,656.27 2247.27,657.14 2252.23,658.01 2257.18,658.87 2262.14,659.72 2267.09,660.57 2272.05,661.41 2277.01,662.24 2281.96,663.07 2286.92,663.89 2291.87,664.71 2296.83,665.52 2301.78,666.33 2306.74,667.13 2311.69,667.92 2316.65,668.71 2321.6,669.49 2326.56,670.27 2331.52,671.04 2336.47,671.81 2341.43,672.57 2346.38,673.32 2351.34,674.08 2356.29,674.82 2361.25,675.56 2366.2,676.3 2371.16,677.03 2376.11,677.76 2381.07,678.48 2386.02,679.2 2390.98,679.91 2395.94,680.62 2400.89,681.32 2405.85,682.02 2410.8,682.72 2415.76,683.41 2420.71,684.1 2425.67,684.78" fill="none" stroke="#000" stroke-width="4.3" stroke-linecap="round" stroke-linejoin="round"/>
<circle cx="2032.7" cy="611.33" r="9" fill="#BEBEBE" stroke="#111" stroke-width="1.9"/>
<circle cx="2177.9" cy="643.97" r="7.9" fill="#000" stroke="#000" stroke-width="1"/>
<circle cx="2383.16" cy="678.49" r="7.2" fill="#fff" stroke="#000" stroke-width="2"/>
<circle cx="1682.57" cy="472.25" r="7.2" fill="#FF2200" stroke="#000" stroke-width="2.1"/>
<line x1="1732.62" y1="443.5" x2="1732.62" y2="384" stroke="#000" stroke-width="3.4" stroke-linecap="round" />
<polyline points="1723.85,400.5 1732.62,383.5 1741.39,400.5" fill="none" stroke="#000" stroke-width="3.4" stroke-linecap="round" stroke-linejoin="round"/>
<line x1="1732.62" y1="745.5" x2="1732.62" y2="804" stroke="#000" stroke-width="3.4" stroke-linecap="round" />
<polyline points="1723.85,788.5 1732.62,804.5 1741.39,788.5" fill="none" stroke="#000" stroke-width="3.4" stroke-linecap="round" stroke-linejoin="round"/>
<g transform="translate(1756.47,426.3) scale(0.9804,1)" font-size="35.29"><text x="-2.9" y="0">Evidence for H1</text></g>
<g transform="translate(1756.47,788.7) scale(0.9804,1)" font-size="35.29"><text x="-2.9" y="0">Evidence for H0</text></g>
<g transform="translate(2450.8,422) scale(0.9804,1)" font-size="35.9"><text x="-0.07" y="0">Anecdotal</text></g>
<g transform="translate(2450.8,538.7) scale(0.9804,1)" font-size="35.9"><text x="-0.07" y="0">Anecdotal</text></g>
<g transform="translate(2451.66,662) scale(0.9804,1)" font-size="35.9"><text x="-2.95" y="0">Moderate</text></g>
<g transform="translate(2451.66,784.4) scale(0.9804,1)" font-size="35.9"><text x="-1.63" y="0">Strong</text></g>
<g transform="translate(2634.22,596) rotate(90) scale(0.9804,1)" font-size="46.72"><text x="-96.97" y="0">Evidence</text></g>
<g transform="translate(1529.41,636) rotate(-90) scale(0.9804,1)" font-size="44.37"><text x="-3.64" y="0">BF</text><text x="53.06" y="7.54" font-size="31.06">10</text></g>
<circle cx="1715.72" cy="139.5" r="7.6" fill="#FF2200" stroke="#111" stroke-width="1.9"/>
<circle cx="1715.72" cy="188" r="9.2" fill="#BEBEBE" stroke="#111" stroke-width="1.9"/>
<circle cx="1715.72" cy="236.5" r="8" fill="#000" stroke="#000" stroke-width="1"/>
<circle cx="1715.72" cy="285" r="6.9" fill="#fff" stroke="#000" stroke-width="2"/>
<g transform="translate(1753.48,150.8) scale(0.9804,1)" font-size="41.31"><text x="-2.74" y="0">max BF</text><text x="139.56" y="7.02" font-size="28.92">10</text><text x="171.73" y="0">:</text></g>
<g transform="translate(1753.48,198.4) scale(0.9804,1)" font-size="41.31"><text x="-2.68" y="0">user prior:</text></g>
<g transform="translate(1752.19,246.8) scale(0.9804,1)" font-size="41.31"><text x="0.06" y="0">wide prior:</text></g>
<g transform="translate(1753.8,295.6) scale(0.9804,1)" font-size="41.31"><text x="-2.68" y="0">ultrawide prior:</text></g>
<g transform="translate(2042.78,150.7) scale(0.9653,1)" font-size="38.75"><text x="-1.51" y="0">0.999 at r</text><text x="0" y="0" transform="translate(171.65,0) scale(0.9,0.68)" stroke="#000" stroke-width="1.24">=</text><text x="201.48" y="0">0.0005</text></g>
<g transform="translate(2043.85,200.5) scale(0.9653,1)" font-size="38.75"><text x="-3.18" y="0">BF</text><text x="46.33" y="6.59" font-size="27.12">01</text><text x="0" y="0" transform="translate(87.12,0) scale(0.9,0.68)" stroke="#000" stroke-width="1.24">=</text><text x="116.95" y="0">3.704</text></g>
<g transform="translate(2043.85,245.1) scale(0.9653,1)" font-size="38.75"><text x="-3.18" y="0">BF</text><text x="46.33" y="6.59" font-size="27.12">01</text><text x="0" y="0" transform="translate(87.12,0) scale(0.9,0.68)" stroke="#000" stroke-width="1.24">=</text><text x="116.95" y="0">5.031</text></g>
<g transform="translate(2043.85,296.4) scale(0.9653,1)" font-size="38.75"><text x="-3.18" y="0">BF</text><text x="46.33" y="6.59" font-size="27.12">01</text><text x="0" y="0" transform="translate(87.12,0) scale(0.9,0.68)" stroke="#000" stroke-width="1.24">=</text><text x="116.95" y="0">6.955</text></g>
</g>
<g transform="translate(7.2,38.7) scale(1.0417,1)" font-size="42.53" font-weight="bold"><text x="-1.06" y="0">A</text></g>
<g transform="translate(1333.3,38.7) scale(1.0417,1)" font-size="42.53" font-weight="bold"><text x="-2.84" y="0">B</text></g>
</g>
</svg>
</body>
</html>
